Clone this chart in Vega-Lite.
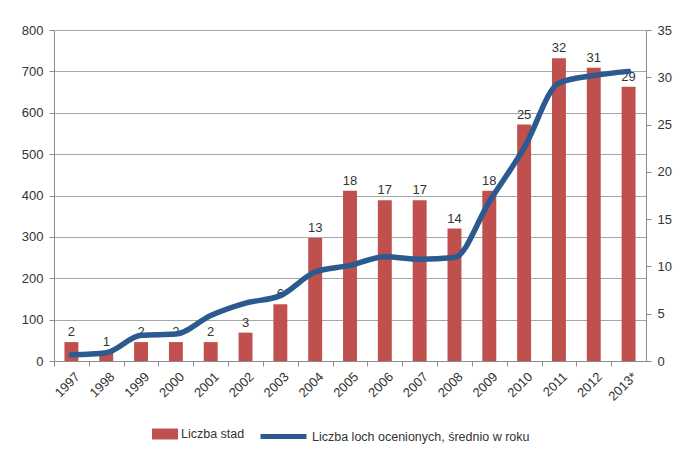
{
  "$schema": "https://vega.github.io/schema/vega-lite/v6.json",
  "width": 592,
  "height": 331,
  "autosize": "none",
  "padding": {"left": 54, "top": 30, "right": 35, "bottom": 92},
  "background": "white",
  "config": {
    "view": {"stroke": null},
    "font": "Liberation Sans",
    "axis": {
      "labelFont": "Liberation Sans",
      "labelFontSize": 13,
      "labelColor": "#333333",
      "domainColor": "#8c8c8c",
      "tickColor": "#8c8c8c",
      "gridColor": "#a6a6a6",
      "tickSize": 5,
      "title": null
    },
    "legend": {
      "labelFont": "Liberation Sans",
      "labelFontSize": 12.5,
      "labelColor": "#333333",
      "labelLimit": 0,
      "padding": 0,
      "offset": 0
    }
  },
  "data": {
    "values": [
      {"rok": "1997", "stada": 2, "lochy": 15},
      {"rok": "1998", "stada": 1, "lochy": 20},
      {"rok": "1999", "stada": 2, "lochy": 62},
      {"rok": "2000", "stada": 2, "lochy": 65},
      {"rok": "2001", "stada": 2, "lochy": 110},
      {"rok": "2002", "stada": 3, "lochy": 140},
      {"rok": "2003", "stada": 6, "lochy": 158},
      {"rok": "2004", "stada": 13, "lochy": 215},
      {"rok": "2005", "stada": 18, "lochy": 231},
      {"rok": "2006", "stada": 17, "lochy": 252},
      {"rok": "2007", "stada": 17, "lochy": 246},
      {"rok": "2008", "stada": 14, "lochy": 250},
      {"rok": "2009", "stada": 18, "lochy": 385},
      {"rok": "2010", "stada": 25, "lochy": 515},
      {"rok": "2011", "stada": 32, "lochy": 672},
      {"rok": "2012", "stada": 31, "lochy": 690},
      {"rok": "2013*", "stada": 29, "lochy": 700}
    ]
  },
  "encoding": {
    "x": {
      "field": "rok",
      "type": "ordinal",
      "sort": null,
      "scale": {"paddingInner": 0.6, "paddingOuter": 0.3},
      "axis": {
        "labelAngle": -45,
        "labelAlign": "right",
        "labelBaseline": "top",
        "tickOffset": -17.4,
        "labelOffset": 19,
        "labelPadding": 4,
        "grid": false
      }
    }
  },
  "layer": [
    {
      "layer": [
        {
          "mark": {"type": "bar"},
          "encoding": {
            "y": {
              "field": "stada",
              "type": "quantitative",
              "scale": {"domain": [0, 35], "nice": false},
              "axis": {"orient": "right", "values": [0, 5, 10, 15, 20, 25, 30, 35], "grid": false, "labelPadding": 6}
            },
            "color": {
              "datum": "Liczba stad",
              "type": "nominal",
              "scale": {"range": ["#C0504D"]},
              "legend": {
                "orient": "none",
                "legendX": 98,
                "legendY": 391,
                "title": null,
                "symbolType": "M-1,-0.42H1V0.42H-1Z",
                "symbolSize": 676,
                "symbolStrokeWidth": 0,
                "labelOffset": 3
              }
            }
          }
        },
        {
          "mark": {"type": "text", "dy": -10, "fontSize": 13, "color": "#333333", "font": "Liberation Sans"},
          "encoding": {
            "y": {"field": "stada", "type": "quantitative"},
            "text": {"field": "stada", "type": "quantitative"}
          }
        }
      ]
    },
    {
      "mark": {"type": "line", "interpolate": "monotone", "strokeWidth": 5.5, "strokeCap": "round"},
      "encoding": {
        "y": {
          "field": "lochy",
          "type": "quantitative",
          "scale": {"domain": [0, 800], "nice": false},
          "axis": {"orient": "left", "values": [0, 100, 200, 300, 400, 500, 600, 700, 800], "grid": true, "labelPadding": 6}
        },
        "stroke": {
          "datum": "Liczba loch ocenionych, średnio w roku",
          "type": "nominal",
          "scale": {"range": ["#2A5A8F"]},
          "legend": {
            "orient": "none",
            "legendX": 204,
            "legendY": 381,
            "title": null,
            "symbolType": "M-1,0H1",
            "symbolSize": 2116,
            "symbolStrokeWidth": 5,
            "labelOffset": 3
          }
        }
      }
    }
  ],
  "resolve": {"scale": {"y": "independent"}}
}
